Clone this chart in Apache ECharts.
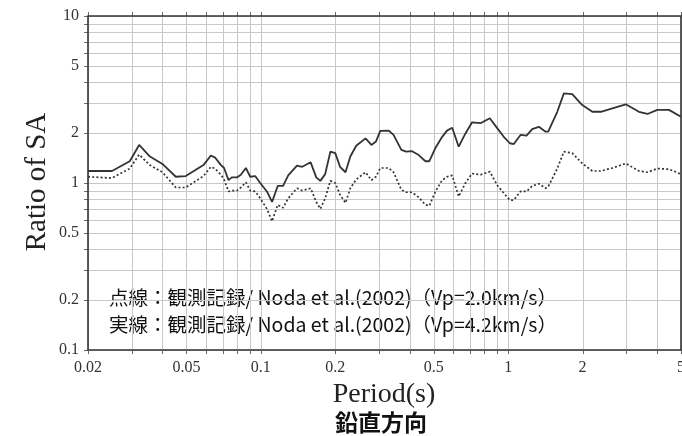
<!DOCTYPE html>
<html><head><meta charset="utf-8">
<script src="https://cdn.jsdelivr.net/npm/echarts@6/dist/echarts.min.js"></script>
<style>html,body{margin:0;padding:0;background:#fff}#c{width:682px;height:436px}</style>
</head><body><div id="c"></div>
<script>
const periods = [0.02,0.025,0.0295,0.0322,0.0356,0.040,0.0453,0.0497,0.0586,0.0628,0.0653,0.069,0.071,0.074,0.0763,0.080,0.083,0.087,0.0906,0.0949,0.0994,0.1058,0.111,0.117,0.123,0.129,0.140,0.147,0.159,0.1675,0.174,0.182,0.191,0.200,0.209,0.220,0.230,0.243,0.265,0.280,0.292,0.304,0.329,0.344,0.370,0.387,0.409,0.435,0.463,0.480,0.508,0.541,0.566,0.594,0.631,0.672,0.715,0.773,0.843,0.903,0.960,1.016,1.054,1.122,1.187,1.251,1.331,1.417,1.452,1.58,1.68,1.816,1.994,2.19,2.37,2.64,2.99,3.38,3.66,4.01,4.47,5.0];
const solidRatio = [1.18,1.18,1.35,1.69,1.44,1.30,1.09,1.10,1.28,1.46,1.42,1.28,1.23,1.04,1.08,1.08,1.12,1.23,1.09,1.10,1.00,0.89,0.77,0.96,0.96,1.11,1.27,1.25,1.33,1.08,1.03,1.13,1.54,1.51,1.25,1.16,1.44,1.67,1.85,1.69,1.77,2.05,2.06,1.94,1.58,1.54,1.55,1.47,1.35,1.35,1.62,1.89,2.06,2.14,1.65,1.98,2.31,2.28,2.44,2.13,1.89,1.73,1.71,1.94,1.92,2.10,2.17,2.03,2.03,2.67,3.44,3.41,2.93,2.67,2.67,2.80,2.96,2.67,2.59,2.74,2.74,2.49];
const dottedRatio = [1.09,1.07,1.22,1.48,1.28,1.16,0.94,0.94,1.10,1.25,1.22,1.12,1.05,0.89,0.90,0.90,0.94,1.01,0.90,0.89,0.81,0.70,0.59,0.74,0.71,0.81,0.93,0.90,0.93,0.77,0.70,0.81,1.03,1.00,0.85,0.76,0.93,1.05,1.16,1.04,1.09,1.23,1.23,1.16,0.91,0.88,0.88,0.82,0.74,0.73,0.89,1.04,1.09,1.11,0.83,1.00,1.14,1.12,1.17,0.97,0.87,0.79,0.79,0.89,0.89,0.96,0.99,0.93,0.95,1.22,1.54,1.51,1.31,1.18,1.18,1.23,1.31,1.18,1.16,1.22,1.21,1.13];
const xTickLabels = [0.02,0.05,0.1,0.2,0.5,1,2,5];
const yTickLabels = [0.1,0.2,0.5,1,2,5,10];
const xGridValues = [0.02,0.03,0.04,0.05,0.06,0.07,0.08,0.09,0.1,0.2,0.3,0.4,0.5,0.6,0.7,0.8,0.9,1,2,3,4,5];
const yGridValues = [0.1,0.2,0.3,0.4,0.5,0.6,0.7,0.8,0.9,1,2,3,4,5,6,7,8,9,10];
const noteLines = ['点線：観測記録/ Noda et al.(2002)（Vp=2.0km/s）','実線：観測記録/ Noda et al.(2002)（Vp=4.2km/s）'];
const xTitle = 'Period(s)';
const yTitle = 'Ratio of SA';
const subTitle = '鉛直方向';

const X_MIN = 0.02, X_MAX = 5, Y_MIN = 0.1, Y_MAX = 10;
const chart = echarts.init(document.getElementById('c'), null, {renderer:'canvas'});
const serif = 'Liberation Serif, Times New Roman, serif';
const cjk = '"Noto Sans CJK JP", sans-serif';
const px = v => Math.round(v) + 0.5;

const option = {
  animation: false,
  backgroundColor: '#fff',
  grid: {left: 88, right: 1, top: 16, bottom: 86, show: false},
  xAxis: {type:'log', logBase:10, min:X_MIN, max:X_MAX, axisLine:{show:false}, axisTick:{show:false}, axisLabel:{show:false}, splitLine:{show:false}},
  yAxis: {type:'log', logBase:10, min:Y_MIN, max:Y_MAX, axisLine:{show:false}, axisTick:{show:false}, axisLabel:{show:false}, splitLine:{show:false}},
  series: [
    {type:'custom', z:1, silent:true, data: xGridValues.map(v => [v, 1]),
      renderItem: (p, api) => {
        const v = api.value(0);
        const a = api.coord([v, Y_MIN]), b = api.coord([v, Y_MAX]);
        const x = px(a[0]);
        return {type:'group', children:[
          {type:'line', shape:{x1:x,y1:a[1],x2:x,y2:b[1]}, style:{stroke:'#c8c8c8', lineWidth:1}},
          {type:'line', shape:{x1:x,y1:a[1],x2:x,y2:a[1]+4}, style:{stroke:'#666', lineWidth:1}},
          {type:'line', shape:{x1:x,y1:b[1],x2:x,y2:b[1]-4}, style:{stroke:'#666', lineWidth:1}}
        ]};
      }},
    {type:'custom', z:1, silent:true, data: yGridValues.map(v => [1, v]),
      renderItem: (p, api) => {
        const v = api.value(1);
        const a = api.coord([X_MIN, v]), b = api.coord([X_MAX, v]);
        const y = px(a[1]);
        return {type:'group', children:[
          {type:'line', shape:{x1:a[0],y1:y,x2:b[0],y2:y}, style:{stroke:'#c8c8c8', lineWidth:1}},
          {type:'line', shape:{x1:a[0],y1:y,x2:a[0]-4,y2:y}, style:{stroke:'#666', lineWidth:1}}
        ]};
      }},
    {type:'custom', z:3, silent:true, data: [[X_MIN, Y_MIN]],
      renderItem: (p, api) => {
        const a = api.coord([X_MIN, Y_MAX]), b = api.coord([X_MAX, Y_MIN]);
        return {type:'rect', shape:{x:a[0], y:a[1], width:b[0]-a[0], height:b[1]-a[1]}, style:{stroke:'#333', lineWidth:1.6, fill:'none'}};
      }},
    {type:'custom', z:3, silent:true, data: xTickLabels.map(v => [v, Y_MIN]),
      renderItem: (p, api) => {
        const a = api.coord([api.value(0), Y_MIN]);
        return {type:'text', x:a[0], y:a[1]+18, style:{text:String(api.value(0)), align:'center', verticalAlign:'middle', font:'16px ' + serif, fill:'#333'}};
      }},
    {type:'custom', z:3, silent:true, data: yTickLabels.map(v => [X_MIN, v]),
      renderItem: (p, api) => {
        const a = api.coord([X_MIN, api.value(1)]);
        return {type:'text', x:a[0]-9, y:a[1], style:{text:String(api.value(1)), align:'right', verticalAlign:'middle', font:'16px ' + serif, fill:'#333'}};
      }},
    {name:'solid', type:'line', z:5, symbol:'none', silent:true, data: periods.map((p,i)=>[p, solidRatio[i]]),
      lineStyle:{color:'#333', width:1.8}},
    {name:'dotted', type:'line', z:5, symbol:'none', silent:true, data: periods.map((p,i)=>[p, dottedRatio[i]]),
      lineStyle:{color:'#333', width:1.7, type:[2,2.2]}}
  ],
  graphic: [
    {type:'text', x:37, y:182, rotation:Math.PI/2, style:{text:yTitle, font:'29px ' + serif, fill:'#222', align:'center', verticalAlign:'middle'}},
    {type:'text', x:384, y:395, style:{text:xTitle, font:'28px ' + serif, fill:'#222', align:'center', verticalAlign:'middle'}},
    {type:'text', x:381, y:422, style:{text:subTitle, font:'bold 23px ' + cjk, fill:'#111', align:'center', verticalAlign:'middle'}},
    {type:'text', x:109, y:298, style:{text:noteLines[0], font:'19.5px ' + cjk, fill:'#111', align:'left', verticalAlign:'middle'}},
    {type:'text', x:109, y:325, style:{text:noteLines[1], font:'19.5px ' + cjk, fill:'#111', align:'left', verticalAlign:'middle'}}
  ]
};
chart.setOption(option);
</script></body></html>
